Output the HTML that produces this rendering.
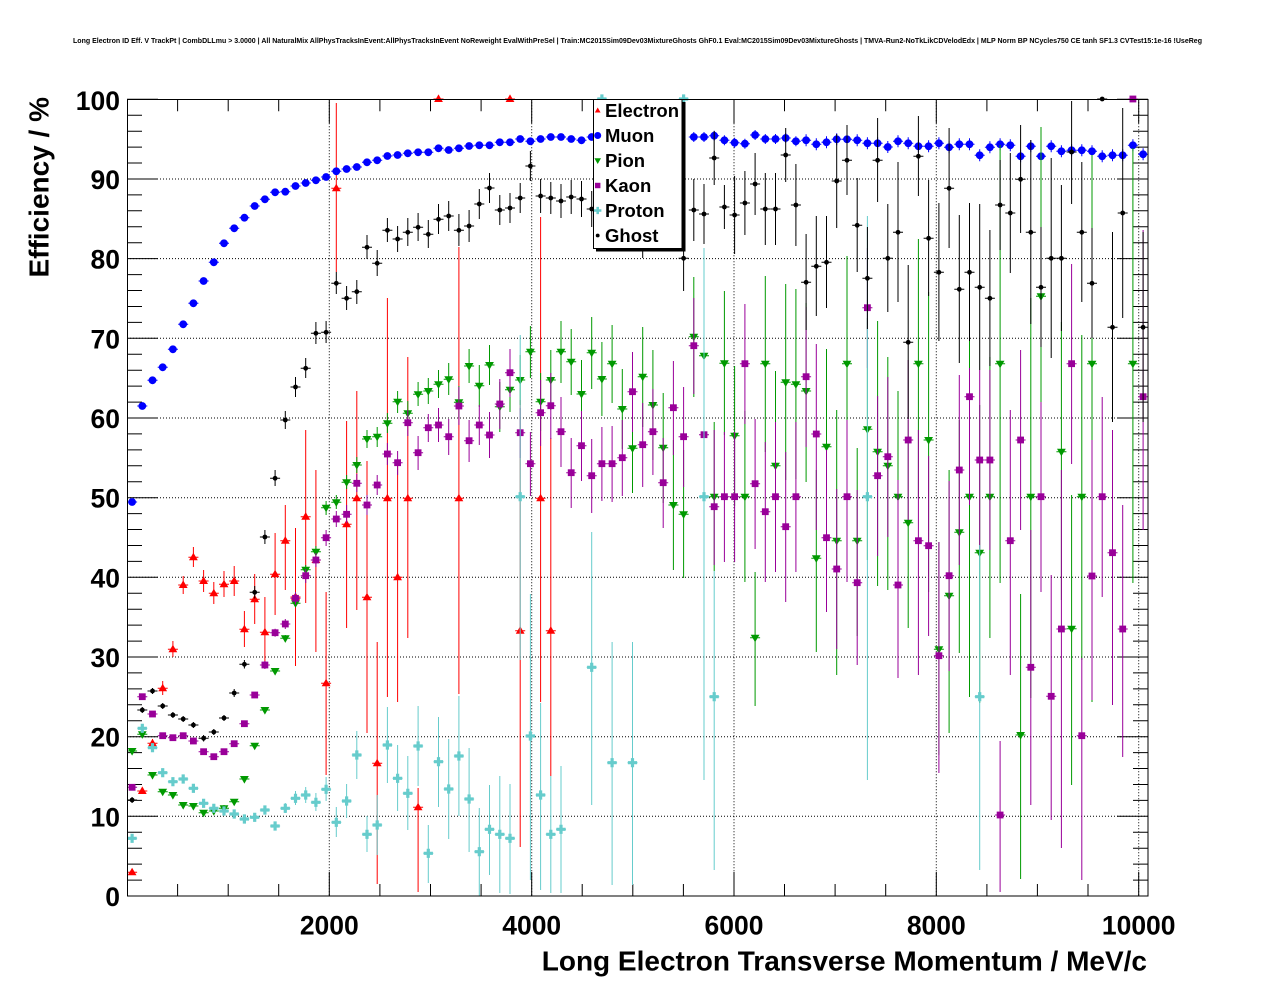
<!DOCTYPE html>
<html><head><meta charset="utf-8"><style>
html,body{margin:0;padding:0;background:#fff;}
svg{display:block;}
text{font-family:"Liberation Sans",Arial,sans-serif;font-weight:bold;fill:#000;}
</style></head><body>
<svg width="1276" height="996" viewBox="0 0 1276 996" xmlns="http://www.w3.org/2000/svg">
<defs>
<path id="E" d="M0-4.6L4.4 3H-4.4Z" fill="#ff0000"/>
<circle id="M" r="3.9" fill="#0000ff"/>
<path id="P" d="M-4.4-3H4.4L0 4.6Z" fill="#009900"/>
<rect id="K" x="-3.4" y="-3.4" width="6.8" height="6.8" fill="#990099"/>
<path id="R" d="M-1.6-4.6H1.6V-1.6H4.6V1.6H1.6V4.6H-1.6V1.6H-4.6V-1.6H-1.6Z" fill="#66cccc"/>
<circle id="G" r="2.4" fill="#000"/>
</defs>
<rect width="1276" height="996" fill="#fff"/>
<text x="73" y="43" font-size="7" textLength="1129" lengthAdjust="spacingAndGlyphs">Long Electron ID Eff. V TrackPt | CombDLLmu &gt; 3.0000 | All NaturalMix AllPhysTracksInEvent:AllPhysTracksInEvent NoReweight EvalWithPreSel | Train:MC2015Sim09Dev03MixtureGhosts GhF0.1 Eval:MC2015Sim09Dev03MixtureGhosts | TMVA-Run2-NoTkLikCDVelodEdx | MLP Norm BP NCycles750 CE tanh SF1.3 CVTest15:1e-16 !UseReg</text>

<!-- grid -->
<path d="M127 816.3H1148M127 736.7H1148M127 657H1148M127 577.3H1148M127 497.7H1148M127 418H1148M127 338.3H1148M127 258.6H1148M127 179H1148M329.3 99.3V896M531.7 99.3V896M734 99.3V896M936.3 99.3V896M1138.7 99.3V896" stroke="#000" stroke-width="1" stroke-dasharray="1 2" fill="none"/>

<!-- ticks -->
<path stroke="#000" stroke-width="1" fill="none" d="
M127 896h31M127 816.3h31M127 736.7h31M127 657h31M127 577.3h31M127 497.7h31M127 418h31M127 338.3h31M127 258.6h31M127 179h31M127 99.3h31
M127 880.1h15M127 864.1h15M127 848.2h15M127 832.3h15M127 800.4h15M127 784.5h15M127 768.5h15M127 752.6h15M127 720.7h15M127 704.8h15M127 688.9h15M127 672.9h15M127 641.1h15M127 625.1h15M127 609.2h15M127 593.3h15M127 561.4h15M127 545.5h15M127 529.5h15M127 513.6h15M127 481.7h15M127 465.8h15M127 449.9h15M127 433.9h15M127 402.1h15M127 386.1h15M127 370.2h15M127 354.2h15M127 322.4h15M127 306.5h15M127 290.5h15M127 274.6h15M127 242.7h15M127 226.8h15M127 210.8h15M127 194.9h15M127 163h15M127 147.1h15M127 131.2h15M127 115.2h15
M1148 896h-31M1148 816.3h-31M1148 736.7h-31M1148 657h-31M1148 577.3h-31M1148 497.7h-31M1148 418h-31M1148 338.3h-31M1148 258.6h-31M1148 179h-31M1148 99.3h-31
M1148 880.1h-15M1148 864.1h-15M1148 848.2h-15M1148 832.3h-15M1148 800.4h-15M1148 784.5h-15M1148 768.5h-15M1148 752.6h-15M1148 720.7h-15M1148 704.8h-15M1148 688.9h-15M1148 672.9h-15M1148 641.1h-15M1148 625.1h-15M1148 609.2h-15M1148 593.3h-15M1148 561.4h-15M1148 545.5h-15M1148 529.5h-15M1148 513.6h-15M1148 481.7h-15M1148 465.8h-15M1148 449.9h-15M1148 433.9h-15M1148 402.1h-15M1148 386.1h-15M1148 370.2h-15M1148 354.2h-15M1148 322.4h-15M1148 306.5h-15M1148 290.5h-15M1148 274.6h-15M1148 242.7h-15M1148 226.8h-15M1148 210.8h-15M1148 194.9h-15M1148 163h-15M1148 147.1h-15M1148 131.2h-15M1148 115.2h-15
M329.3 896v-24M531.7 896v-24M734 896v-24M936.3 896v-24M1138.7 896v-24
M177.6 896v-12M228.2 896v-12M278.7 896v-12M379.9 896v-12M430.5 896v-12M481.1 896v-12M582.2 896v-12M632.8 896v-12M683.4 896v-12M784.5 896v-12M835.1 896v-12M885.7 896v-12M986.9 896v-12M1037.4 896v-12M1088 896v-12
M329.3 99.3v24M531.7 99.3v24M734 99.3v24M936.3 99.3v24M1138.7 99.3v24
M177.6 99.3v12M228.2 99.3v12M278.7 99.3v12M379.9 99.3v12M430.5 99.3v12M481.1 99.3v12M582.2 99.3v12M632.8 99.3v12M683.4 99.3v12M784.5 99.3v12M835.1 99.3v12M885.7 99.3v12M986.9 99.3v12M1037.4 99.3v12M1088 99.3v12"/>

<!-- Electron -->
<path stroke="#ff0000" stroke-width="1" fill="none" d="M127.1 872.3h10M132.1 870V875M137.3 791h10M142.3 788V794M147.5 743.3h10M152.5 739V747.5M157.7 688.3h10M162.7 681V695M167.9 649.3h10M172.9 641V657M178.2 585h10M183.2 576V594M188.4 557.3h10M193.4 547V567M198.6 581h10M203.6 570V592M208.8 593.3h10M213.8 582V604M219 584.3h10M224 571V597M229.2 581h10M234.2 566V596M239.4 629.3h10M244.4 611V647M249.7 599.3h10M254.7 574V624M259.9 632.3h10M264.9 597V667M270.1 574.3h10M275.1 533V615M280.3 540.7h10M285.3 505V590M290.5 597h10M295.5 528V666M300.7 516.7h10M305.7 430V603M310.9 560h10M315.9 470V652M321.1 683.3h10M326.1 592V775M331.3 188.3h10M336.3 103V272M341.6 524.3h10M346.6 421V628M351.8 498.3h10M356.8 391V610M362 597.3h10M367 461V733M372.2 763.3h10M377.2 642V884M382.4 498.3h10M387.4 298V697M392.6 577.3h10M397.6 462V702M402.8 498.3h10M407.8 357V638M413.1 807.3h10M418.1 788V892M433.5 99h10M453.9 498.3h10M458.9 247V694M505 99h10M515.2 630.7h10M520.2 400V847M535.6 498.3h10M540.6 217V702M545.8 630.7h10M550.8 438V776"/>
<g>
<use href="#E" x="132.1" y="872.3"/><use href="#E" x="142.3" y="791"/><use href="#E" x="152.5" y="743.3"/><use href="#E" x="162.7" y="688.3"/><use href="#E" x="172.9" y="649.3"/><use href="#E" x="183.2" y="585"/><use href="#E" x="193.4" y="557.3"/><use href="#E" x="203.6" y="581"/><use href="#E" x="213.8" y="593.3"/><use href="#E" x="224" y="584.3"/><use href="#E" x="234.2" y="581"/><use href="#E" x="244.4" y="629.3"/><use href="#E" x="254.7" y="599.3"/><use href="#E" x="264.9" y="632.3"/><use href="#E" x="275.1" y="574.3"/><use href="#E" x="285.3" y="540.7"/><use href="#E" x="295.5" y="597"/><use href="#E" x="305.7" y="516.7"/><use href="#E" x="315.9" y="560"/><use href="#E" x="326.1" y="683.3"/><use href="#E" x="336.3" y="188.3"/><use href="#E" x="346.6" y="524.3"/><use href="#E" x="356.8" y="498.3"/><use href="#E" x="367" y="597.3"/><use href="#E" x="377.2" y="763.3"/><use href="#E" x="387.4" y="498.3"/><use href="#E" x="397.6" y="577.3"/><use href="#E" x="407.8" y="498.3"/><use href="#E" x="418.1" y="807.3"/><use href="#E" x="438.5" y="99"/><use href="#E" x="458.9" y="498.3"/><use href="#E" x="510" y="99"/><use href="#E" x="520.2" y="630.7"/><use href="#E" x="540.6" y="498.3"/><use href="#E" x="550.8" y="630.7"/>
</g>

<!-- Muon -->
<path stroke="#0000ff" stroke-width="1" fill="none" d="M127.1 502h10M137.3 406h10M147.5 380.3h10M157.7 367.3h10M167.9 349.3h10M178.2 324.3h10M188.4 303.3h10M198.6 281h10M208.8 262.3h10M219 243.3h10M229.2 228.3h10M239.4 217.7h10M249.7 206h10M259.9 199.3h10M270.1 192.3h10M280.3 191.7h10M290.5 186h10M300.7 183h10M310.9 180.3h10M321.1 177h10M331.3 171.3h10M341.6 169h10M351.8 167h10M362 162.3h10M372.2 160.3h10M382.4 156h10M392.6 155h10M402.8 153.3h10M413.1 152.3h10M423.3 152.3h10M433.5 148.3h10M443.7 150h10M453.9 148.3h10M464.1 146h10M474.3 145.3h10M484.5 145.3h10M494.8 142.3h10M505 142.3h10M515.2 139h10M525.4 141.3h10M535.6 139h10M545.8 137h10M556 137h10M566.2 139h10M576.5 140.3h10M586.7 137h10M688.8 137h10M699 137h10M709.2 135.7h10M719.4 140.3h10M729.6 142.7h10M739.9 143.7h10M750.1 135h10M760.3 139h10M770.5 139h10M780.7 138h10M790.9 141.3h10M801.1 140.3h10M811.3 144.3h10M821.5 142.3h10M831.7 139.3h10M842 139.3h10M852.2 140.3h10M862.4 143.3h10M872.6 143.3h10M882.8 147h10M893 141.3h10M903.2 143.3h10M913.4 146.3h10M923.6 146.3h10M933.9 143.3h10M944.1 147.3h10M954.3 144.3h10M964.5 144.3h10M974.7 155.3h10M984.9 147.3h10M995.1 144.3h10M1005.3 145.3h10M1015.6 156.3h10M1025.8 146.3h10M1036 156.3h10M1046.2 146.3h10M1056.4 151.3h10M1066.6 150.3h10M1076.8 150.3h10M1087 151.3h10M1097.2 156.3h10M1107.5 155.3h10M1117.7 155.3h10M1127.9 145.3h10M1138.1 154.3h10
M693.8 132v10M704 132v10M714.2 130.7v10M724.4 135.3v10M734.6 137.7v10M744.9 138.7v10M755.1 130v10M765.3 134v10M775.5 134v10M785.7 133v10M795.9 136.3v10M806.1 134.3v12M816.3 138.3v12M826.5 136.3v12M836.7 133.3v12M847 133.3v12M857.2 134.3v12M867.4 137.3v12M877.6 137.3v12M887.8 141v12M898 135.3v12M908.2 137.3v12M918.4 140.3v12M928.6 140.3v12M938.9 137.3v12M949.1 141.3v12M959.3 138.3v12M969.5 138.3v12M979.7 149.3v12M989.9 141.3v12M1000.1 138.3v12M1010.3 139.3v12M1020.6 150.3v12M1030.8 140.3v12M1041 150.3v12M1051.2 140.3v12M1061.4 145.3v12M1071.6 144.3v12M1081.8 144.3v12M1092 145.3v12M1102.2 150.3v12M1112.5 149.3v12M1122.7 149.3v12M1132.9 139.3v12M1143.1 148.3v12"/>
<g>
<use href="#M" x="132.1" y="502"/><use href="#M" x="142.3" y="406"/><use href="#M" x="152.5" y="380.3"/><use href="#M" x="162.7" y="367.3"/><use href="#M" x="172.9" y="349.3"/><use href="#M" x="183.2" y="324.3"/><use href="#M" x="193.4" y="303.3"/><use href="#M" x="203.6" y="281"/><use href="#M" x="213.8" y="262.3"/><use href="#M" x="224" y="243.3"/><use href="#M" x="234.2" y="228.3"/><use href="#M" x="244.4" y="217.7"/><use href="#M" x="254.7" y="206"/><use href="#M" x="264.9" y="199.3"/><use href="#M" x="275.1" y="192.3"/><use href="#M" x="285.3" y="191.7"/><use href="#M" x="295.5" y="186"/><use href="#M" x="305.7" y="183"/><use href="#M" x="315.9" y="180.3"/><use href="#M" x="326.1" y="177"/><use href="#M" x="336.3" y="171.3"/><use href="#M" x="346.6" y="169"/><use href="#M" x="356.8" y="167"/><use href="#M" x="367" y="162.3"/><use href="#M" x="377.2" y="160.3"/><use href="#M" x="387.4" y="156"/><use href="#M" x="397.6" y="155"/><use href="#M" x="407.8" y="153.3"/><use href="#M" x="418.1" y="152.3"/><use href="#M" x="428.3" y="152.3"/><use href="#M" x="438.5" y="148.3"/><use href="#M" x="448.7" y="150"/><use href="#M" x="458.9" y="148.3"/><use href="#M" x="469.1" y="146"/><use href="#M" x="479.3" y="145.3"/><use href="#M" x="489.5" y="145.3"/><use href="#M" x="499.8" y="142.3"/><use href="#M" x="510" y="142.3"/><use href="#M" x="520.2" y="139"/><use href="#M" x="530.4" y="141.3"/><use href="#M" x="540.6" y="139"/><use href="#M" x="550.8" y="137"/><use href="#M" x="561" y="137"/><use href="#M" x="571.2" y="139"/><use href="#M" x="581.5" y="140.3"/><use href="#M" x="591.7" y="137"/>
<use href="#M" x="693.8" y="137"/><use href="#M" x="704" y="137"/><use href="#M" x="714.2" y="135.7"/><use href="#M" x="724.4" y="140.3"/><use href="#M" x="734.6" y="142.7"/><use href="#M" x="744.9" y="143.7"/><use href="#M" x="755.1" y="135"/><use href="#M" x="765.3" y="139"/><use href="#M" x="775.5" y="139"/><use href="#M" x="785.7" y="138"/><use href="#M" x="795.9" y="141.3"/><use href="#M" x="806.1" y="140.3"/><use href="#M" x="816.3" y="144.3"/><use href="#M" x="826.5" y="142.3"/><use href="#M" x="836.7" y="139.3"/><use href="#M" x="847" y="139.3"/><use href="#M" x="857.2" y="140.3"/><use href="#M" x="867.4" y="143.3"/><use href="#M" x="877.6" y="143.3"/><use href="#M" x="887.8" y="147"/><use href="#M" x="898" y="141.3"/><use href="#M" x="908.2" y="143.3"/><use href="#M" x="918.4" y="146.3"/><use href="#M" x="928.6" y="146.3"/><use href="#M" x="938.9" y="143.3"/><use href="#M" x="949.1" y="147.3"/><use href="#M" x="959.3" y="144.3"/><use href="#M" x="969.5" y="144.3"/><use href="#M" x="979.7" y="155.3"/><use href="#M" x="989.9" y="147.3"/><use href="#M" x="1000.1" y="144.3"/><use href="#M" x="1010.3" y="145.3"/><use href="#M" x="1020.6" y="156.3"/><use href="#M" x="1030.8" y="146.3"/><use href="#M" x="1041" y="156.3"/><use href="#M" x="1051.2" y="146.3"/><use href="#M" x="1061.4" y="151.3"/><use href="#M" x="1071.6" y="150.3"/><use href="#M" x="1081.8" y="150.3"/><use href="#M" x="1092" y="151.3"/><use href="#M" x="1102.2" y="156.3"/><use href="#M" x="1112.5" y="155.3"/><use href="#M" x="1122.7" y="155.3"/><use href="#M" x="1132.9" y="145.3"/><use href="#M" x="1143.1" y="154.3"/>
</g>

<!-- Pion -->
<path stroke="#009900" stroke-width="1" fill="none" d="M127.1 751h10M132.1 748V754M137.3 734.3h10M142.3 731V737.5M147.5 775h10M152.5 772V778M157.7 791.7h10M162.7 789V795M167.9 795h10M172.9 792V798M178.2 805h10M183.2 802V808M188.4 806h10M193.4 803V809M198.6 812.7h10M203.6 810V816M208.8 811h10M213.8 808V814M219 808.3h10M224 805V811M229.2 801.7h10M234.2 799V805M239.4 779h10M244.4 776V782M249.7 745.7h10M254.7 743V749M259.9 710h10M264.9 707V713M270.1 671h10M275.1 668V674M280.3 638.3h10M285.3 635V641.5M290.5 603.3h10M295.5 599V607M300.7 569.7h10M305.7 565V575M310.9 551.7h10M315.9 546V558M321.1 507.7h10M326.1 501V515M331.3 502.3h10M336.3 495V509M341.6 482.3h10M346.6 475V489M351.8 465h10M356.8 457V473M362 439h10M367 430V448M372.2 436.7h10M377.2 427V447M382.4 423.3h10M387.4 413V433M392.6 401.7h10M397.6 391V413M402.8 413.3h10M407.8 401V425M413.1 394.3h10M418.1 382V406M423.3 391h10M428.3 378V404M433.5 384.3h10M438.5 370V398M443.7 379.3h10M448.7 363V395M453.9 402.3h10M458.9 386V418M464.1 366h10M469.1 349V383M474.3 385.7h10M479.3 365V407M484.5 365h10M489.5 345V385M494.8 406.7h10M499.8 382V432M505 389.7h10M510 368V412M515.2 380h10M520.2 355V405M525.4 351.7h10M530.4 326V378M535.6 401.7h10M540.6 373V431M545.8 380h10M550.8 350V410M556 351.7h10M561 321V383M566.2 361.7h10M571.2 329V395M576.5 394h10M581.5 360V428M586.7 352.7h10M591.7 317V389M596.9 379h10M601.9 342V416M607.1 363.7h10M612.1 325V403M617.3 409h10M622.3 369V449M627.5 448.3h10M632.5 403V493M637.7 376.7h10M642.7 327V427M647.9 405h10M652.9 350V460M658.2 447.7h10M663.2 393V503M668.4 505h10M673.4 440V570M678.6 514.3h10M683.6 450V578M688.8 336.7h10M693.8 277V397M699 355.7h10M704 293V419M709.2 496.7h10M714.2 422V571M719.4 363.3h10M724.4 291V435M729.6 435.7h10M734.6 366V506M739.9 496.7h10M744.9 411V582M750.1 637.7h10M755.1 572V706M760.3 363.7h10M765.3 276V452M770.5 465.7h10M775.5 371V561M780.7 382.3h10M785.7 284V480M790.9 384.3h10M795.9 289V479M801.1 391h10M806.1 303V482M811.3 558.3h10M816.3 470V652M821.5 446.7h10M826.5 349V545M831.7 540.7h10M836.7 410V675M842 363.7h10M847 256V498M852.2 540.7h10M857.2 448V636M862.4 429.3h10M867.4 318V560M872.6 451.7h10M877.6 321V586M882.8 465.7h10M887.8 357V590M893 496.7h10M898 391V605M903.2 522.7h10M908.2 420V628M913.4 363.7h10M918.4 239V498M923.6 440h10M928.6 292V592M933.9 649.3h10M938.9 542V755M944.1 595.7h10M949.1 470V733M954.3 532.3h10M959.3 420V653M964.5 496.7h10M969.5 298V697M974.7 552.7h10M979.7 405V703M984.9 496.7h10M989.9 357V638M995.1 363.7h10M1000.1 145V583M1015.6 735h10M1020.6 594V879M1025.8 496.7h10M1030.8 298V698M1036 296.3h10M1041 127V495M1056.4 451.7h10M1061.4 322V600M1066.6 628.7h10M1071.6 495V785M1076.8 496.7h10M1081.8 335V660M1087 363.7h10M1092 155V702M1127.9 363.7h10M1132.9 148V583"/>
<g>
<use href="#P" x="132.1" y="751"/><use href="#P" x="142.3" y="734.3"/><use href="#P" x="152.5" y="775"/><use href="#P" x="162.7" y="791.7"/><use href="#P" x="172.9" y="795"/><use href="#P" x="183.2" y="805"/><use href="#P" x="193.4" y="806"/><use href="#P" x="203.6" y="812.7"/><use href="#P" x="213.8" y="811"/><use href="#P" x="224" y="808.3"/><use href="#P" x="234.2" y="801.7"/><use href="#P" x="244.4" y="779"/><use href="#P" x="254.7" y="745.7"/><use href="#P" x="264.9" y="710"/><use href="#P" x="275.1" y="671"/><use href="#P" x="285.3" y="638.3"/><use href="#P" x="295.5" y="603.3"/><use href="#P" x="305.7" y="569.7"/><use href="#P" x="315.9" y="551.7"/><use href="#P" x="326.1" y="507.7"/><use href="#P" x="336.3" y="502.3"/><use href="#P" x="346.6" y="482.3"/><use href="#P" x="356.8" y="465"/><use href="#P" x="367" y="439"/><use href="#P" x="377.2" y="436.7"/><use href="#P" x="387.4" y="423.3"/><use href="#P" x="397.6" y="401.7"/><use href="#P" x="407.8" y="413.3"/><use href="#P" x="418.1" y="394.3"/><use href="#P" x="428.3" y="391"/><use href="#P" x="438.5" y="384.3"/><use href="#P" x="448.7" y="379.3"/><use href="#P" x="458.9" y="402.3"/><use href="#P" x="469.1" y="366"/><use href="#P" x="479.3" y="385.7"/><use href="#P" x="489.5" y="365"/><use href="#P" x="499.8" y="406.7"/><use href="#P" x="510" y="389.7"/><use href="#P" x="520.2" y="380"/><use href="#P" x="530.4" y="351.7"/><use href="#P" x="540.6" y="401.7"/><use href="#P" x="550.8" y="380"/><use href="#P" x="561" y="351.7"/><use href="#P" x="571.2" y="361.7"/><use href="#P" x="581.5" y="394"/><use href="#P" x="591.7" y="352.7"/><use href="#P" x="601.9" y="379"/><use href="#P" x="612.1" y="363.7"/><use href="#P" x="622.3" y="409"/><use href="#P" x="632.5" y="448.3"/><use href="#P" x="642.7" y="376.7"/><use href="#P" x="652.9" y="405"/><use href="#P" x="663.2" y="447.7"/><use href="#P" x="673.4" y="505"/><use href="#P" x="683.6" y="514.3"/><use href="#P" x="693.8" y="336.7"/><use href="#P" x="704" y="355.7"/><use href="#P" x="714.2" y="496.7"/><use href="#P" x="724.4" y="363.3"/><use href="#P" x="734.6" y="435.7"/><use href="#P" x="744.9" y="496.7"/><use href="#P" x="755.1" y="637.7"/><use href="#P" x="765.3" y="363.7"/><use href="#P" x="775.5" y="465.7"/><use href="#P" x="785.7" y="382.3"/><use href="#P" x="795.9" y="384.3"/><use href="#P" x="806.1" y="391"/><use href="#P" x="816.3" y="558.3"/><use href="#P" x="826.5" y="446.7"/><use href="#P" x="836.7" y="540.7"/><use href="#P" x="847" y="363.7"/><use href="#P" x="857.2" y="540.7"/><use href="#P" x="867.4" y="429.3"/><use href="#P" x="877.6" y="451.7"/><use href="#P" x="887.8" y="465.7"/><use href="#P" x="898" y="496.7"/><use href="#P" x="908.2" y="522.7"/><use href="#P" x="918.4" y="363.7"/><use href="#P" x="928.6" y="440"/><use href="#P" x="938.9" y="649.3"/><use href="#P" x="949.1" y="595.7"/><use href="#P" x="959.3" y="532.3"/><use href="#P" x="969.5" y="496.7"/><use href="#P" x="979.7" y="552.7"/><use href="#P" x="989.9" y="496.7"/><use href="#P" x="1000.1" y="363.7"/><use href="#P" x="1020.6" y="735"/><use href="#P" x="1030.8" y="496.7"/><use href="#P" x="1041" y="296.3"/><use href="#P" x="1061.4" y="451.7"/><use href="#P" x="1071.6" y="628.7"/><use href="#P" x="1081.8" y="496.7"/><use href="#P" x="1092" y="363.7"/><use href="#P" x="1132.9" y="363.7"/>
</g>

<!-- Kaon -->
<path stroke="#990099" stroke-width="1" fill="none" d="M127.1 787.3h10M132.1 784V790.5M137.3 696.7h10M142.3 693.5V700M147.5 714h10M152.5 711V717M157.7 735.7h10M162.7 732.5V739M167.9 737.7h10M172.9 734.5V741M178.2 735.7h10M183.2 732.5V739M188.4 741h10M193.4 738V744M198.6 751.7h10M203.6 748.5V755M208.8 756.7h10M213.8 753.5V760M219 751.7h10M224 748.5V755M229.2 743.7h10M234.2 740.5V747M239.4 723.7h10M244.4 720.5V727M249.7 695h10M254.7 692V698M259.9 665h10M264.9 661V669M270.1 632.7h10M275.1 628.7V636.7M280.3 624h10M285.3 619V629M290.5 598.3h10M295.5 592V604.5M300.7 575.7h10M305.7 569V583M310.9 560h10M315.9 553V567M321.1 537.7h10M326.1 530V546M331.3 519h10M336.3 511V527M341.6 514.3h10M346.6 505V523M351.8 483.3h10M356.8 474V492M362 505h10M367 495V515M372.2 485h10M377.2 475V495M382.4 454h10M387.4 443V465M392.6 462.7h10M397.6 451V475M402.8 422.7h10M407.8 410V436M413.1 452.7h10M418.1 436V470M423.3 427.7h10M428.3 414V442M433.5 425h10M438.5 408V442M443.7 436.7h10M448.7 419V455M453.9 406h10M458.9 387V425M464.1 440.7h10M469.1 420V462M474.3 425h10M479.3 405V445M484.5 435h10M489.5 412V458M494.8 404h10M499.8 379V429M505 372.7h10M510 349V397M515.2 432.7h10M520.2 408V458M525.4 463.7h10M530.4 432V496M535.6 412.7h10M540.6 380V446M545.8 405.7h10M550.8 373V439M556 431.7h10M561 397V467M566.2 472.7h10M571.2 438V508M576.5 445.7h10M581.5 411V481M586.7 475.7h10M591.7 439V513M596.9 463.7h10M601.9 427V501M607.1 463.7h10M612.1 426V502M617.3 457.7h10M622.3 420V496M627.5 391.7h10M632.5 352V432M637.7 444.7h10M642.7 403V487M647.9 431.7h10M652.9 389V475M658.2 482.7h10M663.2 438V528M668.4 407.7h10M673.4 361V455M678.6 436.7h10M683.6 387V487M688.8 345.7h10M693.8 298V394M699 434.7h10M704 385V485M709.2 506.7h10M714.2 430V565M719.4 496.7h10M724.4 432V562M729.6 496.7h10M734.6 432V562M739.9 363.7h10M744.9 304V424M750.1 483.7h10M755.1 419V549M760.3 511.7h10M765.3 442V582M770.5 496.7h10M775.5 422V572M780.7 526.7h10M785.7 452V602M790.9 496.7h10M795.9 422V572M801.1 376.7h10M806.1 307V447M811.3 434h10M816.3 344V530M821.5 537.7h10M826.5 450V612M831.7 569h10M836.7 489V649M842 496.7h10M847 420V582M852.2 582.7h10M857.2 490V665M862.4 307.7h10M867.4 248V368M872.6 475.7h10M877.6 396V556M882.8 456.7h10M887.8 377V537M893 585h10M898 480V678M903.2 440h10M908.2 360V520M913.4 540.7h10M918.4 430V675M923.6 545.7h10M928.6 456V636M933.9 655.7h10M938.9 542V773M944.1 575.7h10M949.1 481V671M954.3 470h10M959.3 375V565M964.5 396.7h10M969.5 368V505M974.7 460h10M979.7 370V550M984.9 460h10M989.9 370V550M995.1 815h10M1000.1 741V892M1005.3 540.7h10M1010.3 410V675M1015.6 440h10M1020.6 350V530M1025.8 667.3h10M1030.8 530V805M1036 496.7h10M1041 402V592M1046.2 696.3h10M1051.2 575V820M1056.4 629h10M1061.4 470V848M1066.6 363.7h10M1071.6 264V464M1076.8 735.7h10M1081.8 658V880M1087 576h10M1092 440V700M1097.2 496.7h10M1102.2 397V597M1107.5 552.7h10M1112.5 430V705M1117.7 629h10M1122.7 505V757M1127.9 99h10M1138.1 396.7h10M1143.1 230V530"/>
<g>
<use href="#K" x="132.1" y="787.3"/><use href="#K" x="142.3" y="696.7"/><use href="#K" x="152.5" y="714"/><use href="#K" x="162.7" y="735.7"/><use href="#K" x="172.9" y="737.7"/><use href="#K" x="183.2" y="735.7"/><use href="#K" x="193.4" y="741"/><use href="#K" x="203.6" y="751.7"/><use href="#K" x="213.8" y="756.7"/><use href="#K" x="224" y="751.7"/><use href="#K" x="234.2" y="743.7"/><use href="#K" x="244.4" y="723.7"/><use href="#K" x="254.7" y="695"/><use href="#K" x="264.9" y="665"/><use href="#K" x="275.1" y="632.7"/><use href="#K" x="285.3" y="624"/><use href="#K" x="295.5" y="598.3"/><use href="#K" x="305.7" y="575.7"/><use href="#K" x="315.9" y="560"/><use href="#K" x="326.1" y="537.7"/><use href="#K" x="336.3" y="519"/><use href="#K" x="346.6" y="514.3"/><use href="#K" x="356.8" y="483.3"/><use href="#K" x="367" y="505"/><use href="#K" x="377.2" y="485"/><use href="#K" x="387.4" y="454"/><use href="#K" x="397.6" y="462.7"/><use href="#K" x="407.8" y="422.7"/><use href="#K" x="418.1" y="452.7"/><use href="#K" x="428.3" y="427.7"/><use href="#K" x="438.5" y="425"/><use href="#K" x="448.7" y="436.7"/><use href="#K" x="458.9" y="406"/><use href="#K" x="469.1" y="440.7"/><use href="#K" x="479.3" y="425"/><use href="#K" x="489.5" y="435"/><use href="#K" x="499.8" y="404"/><use href="#K" x="510" y="372.7"/><use href="#K" x="520.2" y="432.7"/><use href="#K" x="530.4" y="463.7"/><use href="#K" x="540.6" y="412.7"/><use href="#K" x="550.8" y="405.7"/><use href="#K" x="561" y="431.7"/><use href="#K" x="571.2" y="472.7"/><use href="#K" x="581.5" y="445.7"/><use href="#K" x="591.7" y="475.7"/><use href="#K" x="601.9" y="463.7"/><use href="#K" x="612.1" y="463.7"/><use href="#K" x="622.3" y="457.7"/><use href="#K" x="632.5" y="391.7"/><use href="#K" x="642.7" y="444.7"/><use href="#K" x="652.9" y="431.7"/><use href="#K" x="663.2" y="482.7"/><use href="#K" x="673.4" y="407.7"/><use href="#K" x="683.6" y="436.7"/><use href="#K" x="693.8" y="345.7"/><use href="#K" x="704" y="434.7"/><use href="#K" x="714.2" y="506.7"/><use href="#K" x="724.4" y="496.7"/><use href="#K" x="734.6" y="496.7"/><use href="#K" x="744.9" y="363.7"/><use href="#K" x="755.1" y="483.7"/><use href="#K" x="765.3" y="511.7"/><use href="#K" x="775.5" y="496.7"/><use href="#K" x="785.7" y="526.7"/><use href="#K" x="795.9" y="496.7"/><use href="#K" x="806.1" y="376.7"/><use href="#K" x="816.3" y="434"/><use href="#K" x="826.5" y="537.7"/><use href="#K" x="836.7" y="569"/><use href="#K" x="847" y="496.7"/><use href="#K" x="857.2" y="582.7"/><use href="#K" x="867.4" y="307.7"/><use href="#K" x="877.6" y="475.7"/><use href="#K" x="887.8" y="456.7"/><use href="#K" x="898" y="585"/><use href="#K" x="908.2" y="440"/><use href="#K" x="918.4" y="540.7"/><use href="#K" x="928.6" y="545.7"/><use href="#K" x="938.9" y="655.7"/><use href="#K" x="949.1" y="575.7"/><use href="#K" x="959.3" y="470"/><use href="#K" x="969.5" y="396.7"/><use href="#K" x="979.7" y="460"/><use href="#K" x="989.9" y="460"/><use href="#K" x="1000.1" y="815"/><use href="#K" x="1010.3" y="540.7"/><use href="#K" x="1020.6" y="440"/><use href="#K" x="1030.8" y="667.3"/><use href="#K" x="1041" y="496.7"/><use href="#K" x="1051.2" y="696.3"/><use href="#K" x="1061.4" y="629"/><use href="#K" x="1071.6" y="363.7"/><use href="#K" x="1081.8" y="735.7"/><use href="#K" x="1092" y="576"/><use href="#K" x="1102.2" y="496.7"/><use href="#K" x="1112.5" y="552.7"/><use href="#K" x="1122.7" y="629"/><use href="#K" x="1132.9" y="99"/><use href="#K" x="1143.1" y="396.7"/>
</g>

<!-- Proton -->
<path stroke="#66cccc" stroke-width="1" fill="none" d="M127.1 838.3h10M132.1 835V841.5M137.3 728.3h10M142.3 725V731.5M147.5 747.7h10M152.5 744.5V751M157.7 772.7h10M162.7 769.5V776M167.9 781.7h10M172.9 778.5V785M178.2 779h10M183.2 776V782M188.4 788.3h10M193.4 785V791.5M198.6 803.3h10M203.6 800V806.5M208.8 808.3h10M213.8 805V811.5M219 811h10M224 808V814M229.2 814h10M234.2 811V817M239.4 819h10M244.4 816V822M249.7 817.3h10M254.7 813V821.5M259.9 810h10M264.9 806V814M270.1 826h10M275.1 822V830M280.3 808.3h10M285.3 803V813M290.5 798.3h10M295.5 791V805M300.7 795h10M305.7 787V803M310.9 802.3h10M315.9 793V811M321.1 789.3h10M326.1 777V801M331.3 822.3h10M336.3 807V837M341.6 801h10M346.6 784V818M351.8 755h10M356.8 731V779M362 834.3h10M367 816V852M372.2 825h10M377.2 795V855M382.4 745h10M387.4 707V783M392.6 778.3h10M397.6 745V811M402.8 793.3h10M407.8 756V830M413.1 746h10M418.1 706V786M423.3 853.3h10M428.3 825V883M433.5 761.7h10M438.5 717V807M443.7 789h10M448.7 739V839M453.9 756h10M458.9 696V816M464.1 799h10M469.1 748V852M474.3 851.7h10M479.3 808V896M484.5 829.3h10M489.5 785V875M494.8 834.3h10M499.8 776V893M505 838.3h10M510 784V894M515.2 496.7h10M520.2 335V660M525.4 736h10M530.4 594V880M535.6 795h10M540.6 703V890M545.8 834.3h10M550.8 776V893M556 829.3h10M561 766V893M586.7 667.3h10M591.7 532V805M596.9 99h10M607.1 762.7h10M612.1 642V885M627.5 762.7h10M632.5 642V885M678.6 99h10M699 496.7h10M704 248V780M709.2 696.7h10M714.2 571V870M862.4 496.7h10M867.4 216V780M974.7 696.7h10M979.7 545V870"/>
<g>
<use href="#R" x="132.1" y="838.3"/><use href="#R" x="142.3" y="728.3"/><use href="#R" x="152.5" y="747.7"/><use href="#R" x="162.7" y="772.7"/><use href="#R" x="172.9" y="781.7"/><use href="#R" x="183.2" y="779"/><use href="#R" x="193.4" y="788.3"/><use href="#R" x="203.6" y="803.3"/><use href="#R" x="213.8" y="808.3"/><use href="#R" x="224" y="811"/><use href="#R" x="234.2" y="814"/><use href="#R" x="244.4" y="819"/><use href="#R" x="254.7" y="817.3"/><use href="#R" x="264.9" y="810"/><use href="#R" x="275.1" y="826"/><use href="#R" x="285.3" y="808.3"/><use href="#R" x="295.5" y="798.3"/><use href="#R" x="305.7" y="795"/><use href="#R" x="315.9" y="802.3"/><use href="#R" x="326.1" y="789.3"/><use href="#R" x="336.3" y="822.3"/><use href="#R" x="346.6" y="801"/><use href="#R" x="356.8" y="755"/><use href="#R" x="367" y="834.3"/><use href="#R" x="377.2" y="825"/><use href="#R" x="387.4" y="745"/><use href="#R" x="397.6" y="778.3"/><use href="#R" x="407.8" y="793.3"/><use href="#R" x="418.1" y="746"/><use href="#R" x="428.3" y="853.3"/><use href="#R" x="438.5" y="761.7"/><use href="#R" x="448.7" y="789"/><use href="#R" x="458.9" y="756"/><use href="#R" x="469.1" y="799"/><use href="#R" x="479.3" y="851.7"/><use href="#R" x="489.5" y="829.3"/><use href="#R" x="499.8" y="834.3"/><use href="#R" x="510" y="838.3"/><use href="#R" x="520.2" y="496.7"/><use href="#R" x="530.4" y="736"/><use href="#R" x="540.6" y="795"/><use href="#R" x="550.8" y="834.3"/><use href="#R" x="561" y="829.3"/><use href="#R" x="591.7" y="667.3"/><use href="#R" x="601.9" y="99"/><use href="#R" x="612.1" y="762.7"/><use href="#R" x="632.5" y="762.7"/><use href="#R" x="683.6" y="99"/><use href="#R" x="704" y="496.7"/><use href="#R" x="714.2" y="696.7"/><use href="#R" x="867.4" y="496.7"/><use href="#R" x="979.7" y="696.7"/>
</g>

<!-- Ghost -->
<path stroke="#000" stroke-width="1" fill="none" d="M127.1 800h10M132.1 797V803M137.3 710h10M142.3 707V713M147.5 691h10M152.5 688V694M157.7 706h10M162.7 703V709M167.9 715h10M172.9 712V718M178.2 719h10M183.2 716V722M188.4 725h10M193.4 722V728M198.6 738.3h10M203.6 735V741.5M208.8 732h10M213.8 729V735M219 718h10M224 715V721M229.2 693h10M234.2 689V697M239.4 664.3h10M244.4 660V668.5M249.7 592.3h10M254.7 586V598.5M259.9 537h10M264.9 530V544M270.1 478.3h10M275.1 470V486M280.3 420h10M285.3 411V429M290.5 387h10M295.5 377V397M300.7 368.3h10M305.7 358V378M310.9 333.3h10M315.9 322V344M321.1 332.3h10M326.1 321V343M331.3 283.3h10M336.3 272V294M341.6 298.3h10M346.6 286V310M351.8 291.7h10M356.8 280V304M362 247.3h10M367 235V259M372.2 263.3h10M377.2 250V276M382.4 230.3h10M387.4 218V242M392.6 239h10M397.6 226V252M402.8 232.3h10M407.8 218V246M413.1 227.3h10M418.1 213V241M423.3 234.3h10M428.3 220V248M433.5 219.3h10M438.5 204V234M443.7 216h10M448.7 201V231M453.9 230.3h10M458.9 214V246M464.1 226h10M469.1 210V242M474.3 204h10M479.3 189V219M484.5 188h10M489.5 173V203M494.8 210h10M499.8 195V225M505 208h10M510 193V223M515.2 198h10M520.2 183V213M525.4 166h10M530.4 151V181M535.6 196h10M540.6 179V213M545.8 198h10M550.8 182V214M556 201h10M561 184V218M566.2 197h10M571.2 180V214M576.5 199h10M581.5 181V217M586.7 209h10M591.7 191V227M642.7 138V258M678.6 258.3h10M683.6 225V291M688.8 210h10M693.8 179V241M699 214h10M704 184V244M709.2 158h10M714.2 131V185M719.4 207h10M724.4 185V229M729.6 215h10M734.6 176V254M739.9 203h10M744.9 171V235M750.1 184h10M755.1 153V215M760.3 209h10M765.3 173V245M770.5 209h10M775.5 173V245M780.7 155h10M785.7 128V182M790.9 205h10M795.9 164V246M801.1 282.3h10M806.1 234V330M811.3 266.3h10M816.3 216V316M821.5 262.3h10M826.5 216V308M831.7 181h10M836.7 134V228M842 160.3h10M847 125V195M852.2 225.3h10M857.2 178V272M862.4 278.3h10M867.4 227V329M872.6 160.3h10M877.6 118V202M882.8 258.3h10M887.8 204V312M893 232.3h10M898 162V302M903.2 342.3h10M908.2 265V419M913.4 156.3h10M918.4 116V196M923.6 238.3h10M928.6 180V296M933.9 272.3h10M938.9 203V341M944.1 188.3h10M949.1 128V248M954.3 289.3h10M959.3 215V363M964.5 272.3h10M969.5 203V341M974.7 287.3h10M979.7 204V370M984.9 298.3h10M989.9 230V366M995.1 205h10M1000.1 160V250M1005.3 213h10M1010.3 153V273M1015.6 179.3h10M1020.6 125V233M1025.8 232.3h10M1030.8 140V324M1036 287.3h10M1041 227V347M1046.2 258.3h10M1051.2 158V358M1056.4 258.3h10M1061.4 185V331M1066.6 152h10M1071.6 101V204M1076.8 232.3h10M1081.8 162V302M1087 283.3h10M1092 228V338M1097.2 99h10M1107.5 327.3h10M1112.5 232V422M1117.7 213h10M1122.7 108V318M1138.1 327.3h10M1143.1 232V422"/>
<g>
<use href="#G" x="132.1" y="800"/><use href="#G" x="142.3" y="710"/><use href="#G" x="152.5" y="691"/><use href="#G" x="162.7" y="706"/><use href="#G" x="172.9" y="715"/><use href="#G" x="183.2" y="719"/><use href="#G" x="193.4" y="725"/><use href="#G" x="203.6" y="738.3"/><use href="#G" x="213.8" y="732"/><use href="#G" x="224" y="718"/><use href="#G" x="234.2" y="693"/><use href="#G" x="244.4" y="664.3"/><use href="#G" x="254.7" y="592.3"/><use href="#G" x="264.9" y="537"/><use href="#G" x="275.1" y="478.3"/><use href="#G" x="285.3" y="420"/><use href="#G" x="295.5" y="387"/><use href="#G" x="305.7" y="368.3"/><use href="#G" x="315.9" y="333.3"/><use href="#G" x="326.1" y="332.3"/><use href="#G" x="336.3" y="283.3"/><use href="#G" x="346.6" y="298.3"/><use href="#G" x="356.8" y="291.7"/><use href="#G" x="367" y="247.3"/><use href="#G" x="377.2" y="263.3"/><use href="#G" x="387.4" y="230.3"/><use href="#G" x="397.6" y="239"/><use href="#G" x="407.8" y="232.3"/><use href="#G" x="418.1" y="227.3"/><use href="#G" x="428.3" y="234.3"/><use href="#G" x="438.5" y="219.3"/><use href="#G" x="448.7" y="216"/><use href="#G" x="458.9" y="230.3"/><use href="#G" x="469.1" y="226"/><use href="#G" x="479.3" y="204"/><use href="#G" x="489.5" y="188"/><use href="#G" x="499.8" y="210"/><use href="#G" x="510" y="208"/><use href="#G" x="520.2" y="198"/><use href="#G" x="530.4" y="166"/><use href="#G" x="540.6" y="196"/><use href="#G" x="550.8" y="198"/><use href="#G" x="561" y="201"/><use href="#G" x="571.2" y="197"/><use href="#G" x="581.5" y="199"/><use href="#G" x="591.7" y="209"/><use href="#G" x="683.6" y="258.3"/><use href="#G" x="693.8" y="210"/><use href="#G" x="704" y="214"/><use href="#G" x="714.2" y="158"/><use href="#G" x="724.4" y="207"/><use href="#G" x="734.6" y="215"/><use href="#G" x="744.9" y="203"/><use href="#G" x="755.1" y="184"/><use href="#G" x="765.3" y="209"/><use href="#G" x="775.5" y="209"/><use href="#G" x="785.7" y="155"/><use href="#G" x="795.9" y="205"/><use href="#G" x="806.1" y="282.3"/><use href="#G" x="816.3" y="266.3"/><use href="#G" x="826.5" y="262.3"/><use href="#G" x="836.7" y="181"/><use href="#G" x="847" y="160.3"/><use href="#G" x="857.2" y="225.3"/><use href="#G" x="867.4" y="278.3"/><use href="#G" x="877.6" y="160.3"/><use href="#G" x="887.8" y="258.3"/><use href="#G" x="898" y="232.3"/><use href="#G" x="908.2" y="342.3"/><use href="#G" x="918.4" y="156.3"/><use href="#G" x="928.6" y="238.3"/><use href="#G" x="938.9" y="272.3"/><use href="#G" x="949.1" y="188.3"/><use href="#G" x="959.3" y="289.3"/><use href="#G" x="969.5" y="272.3"/><use href="#G" x="979.7" y="287.3"/><use href="#G" x="989.9" y="298.3"/><use href="#G" x="1000.1" y="205"/><use href="#G" x="1010.3" y="213"/><use href="#G" x="1020.6" y="179.3"/><use href="#G" x="1030.8" y="232.3"/><use href="#G" x="1041" y="287.3"/><use href="#G" x="1051.2" y="258.3"/><use href="#G" x="1061.4" y="258.3"/><use href="#G" x="1071.6" y="152"/><use href="#G" x="1081.8" y="232.3"/><use href="#G" x="1092" y="283.3"/><use href="#G" x="1102.2" y="99"/><use href="#G" x="1112.5" y="327.3"/><use href="#G" x="1122.7" y="213"/><use href="#G" x="1143.1" y="327.3"/>
</g>

<!-- frame -->
<rect x="127.5" y="99.5" width="1020.5" height="796.5" fill="none" stroke="#000" stroke-width="1"/>

<!-- legend -->
<rect x="682" y="102" width="3.5" height="149.5" fill="#000"/>
<rect x="596" y="248.5" width="89.5" height="3" fill="#000"/>
<rect x="593.5" y="99.5" width="88.5" height="149" fill="#fff" stroke="#000" stroke-width="1"/>
<use href="#E" transform="translate(597.7 110.5) scale(0.65)"/>
<use href="#M" transform="translate(597.7 135.5) scale(0.9)"/>
<use href="#P" transform="translate(597.7 160.5) scale(0.75)"/>
<use href="#K" transform="translate(597.7 185.5) scale(0.8)"/>
<use href="#R" transform="translate(597.7 210.5) scale(0.8)"/>
<use href="#G" transform="translate(597.7 235.5) scale(0.8)"/>
<g font-size="18.5">
<text x="605" y="117">Electron</text>
<text x="605" y="142">Muon</text>
<text x="605" y="167">Pion</text>
<text x="605" y="192">Kaon</text>
<text x="605" y="217">Proton</text>
<text x="605" y="242">Ghost</text>
</g>

<!-- y tick labels -->
<g font-size="26.5" text-anchor="end">
<text x="120" y="906">0</text>
<text x="120" y="826.3">10</text>
<text x="120" y="746.7">20</text>
<text x="120" y="667">30</text>
<text x="120" y="587.3">40</text>
<text x="120" y="507.7">50</text>
<text x="120" y="428">60</text>
<text x="120" y="348.3">70</text>
<text x="120" y="268.6">80</text>
<text x="120" y="189">90</text>
<text x="120" y="109.8">100</text>
</g>
<!-- x tick labels -->
<g font-size="26.5" text-anchor="middle">
<text x="329.3" y="934.3">2000</text>
<text x="531.7" y="934.3">4000</text>
<text x="734" y="934.3">6000</text>
<text x="936.3" y="934.3">8000</text>
<text x="1138.7" y="934.3">10000</text>
</g>
<!-- axis titles -->
<text x="1147" y="970.5" font-size="28" text-anchor="end">Long Electron Transverse Momentum / MeV/c</text>
<text transform="translate(48.5 97) rotate(-90)" font-size="28" text-anchor="end">Efficiency / %</text>
</svg>
</body></html>
